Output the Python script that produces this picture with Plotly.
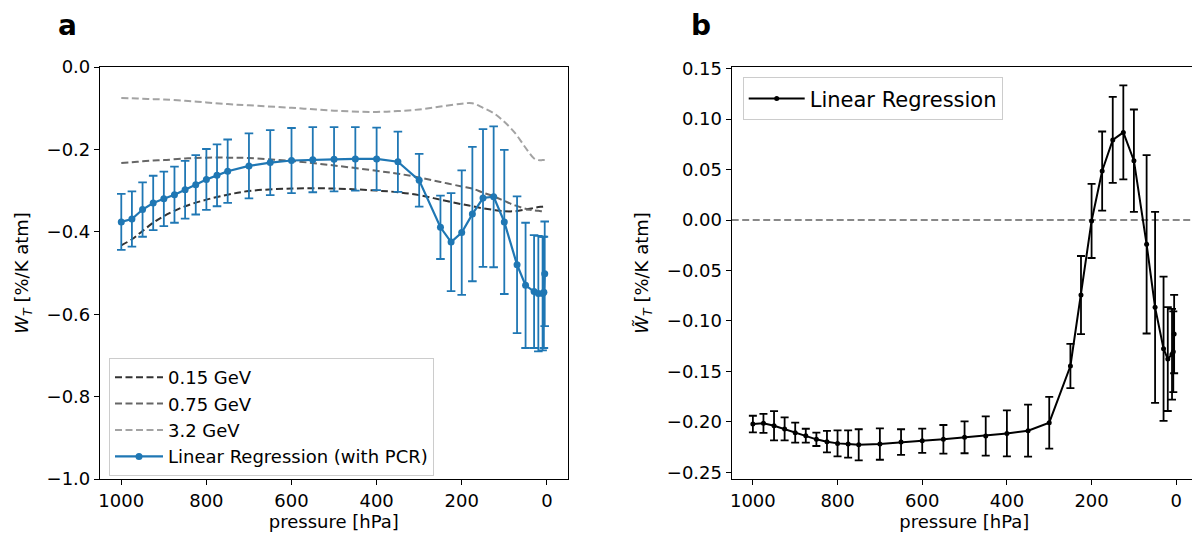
import plotly.graph_objects as go

# pressure levels [hPa]
pressure = [1000, 975, 950, 925, 900, 875, 850, 825, 800, 775, 750, 700, 650, 600,
            550, 500, 450, 400, 350, 300, 250, 225, 200, 175, 150, 125, 100, 70,
            50, 30, 20, 10, 7, 5]

# panel a: linear regression (with PCR)
wt_pcr = [-0.376, -0.369, -0.346, -0.330, -0.320, -0.310, -0.298, -0.286, -0.273,
          -0.263, -0.253, -0.240, -0.232, -0.227, -0.225, -0.224, -0.223, -0.223,
          -0.230, -0.275, -0.389, -0.425, -0.402, -0.357, -0.318, -0.315, -0.376,
          -0.480, -0.530, -0.545, -0.550, -0.550, -0.547, -0.502]
wt_pcr_err = [0.068, 0.067, 0.066, 0.066, 0.066, 0.068, 0.070, 0.072, 0.074, 0.075,
              0.077, 0.079, 0.079, 0.079, 0.079, 0.078, 0.077, 0.076, 0.073, 0.064,
              0.077, 0.119, 0.151, 0.163, 0.167, 0.171, 0.175, 0.166, 0.152, 0.137,
              0.140, 0.138, 0.135, 0.127]

# panel a: model curves
p_model = [1000, 975, 950, 925, 900, 850, 800, 750, 700, 600, 500, 400, 350, 300,
           250, 200, 175, 150, 125, 100, 75, 50, 30, 20, 10, 5]
wt_015 = [-0.433, -0.418, -0.398, -0.378, -0.362, -0.338, -0.322, -0.310, -0.301,
          -0.295, -0.295, -0.300, -0.304, -0.311, -0.322, -0.333, -0.338, -0.343,
          -0.347, -0.350, -0.350, -0.346, -0.342, -0.340, -0.339, -0.338]
wt_075 = [-0.233, -0.231, -0.229, -0.227, -0.226, -0.222, -0.220, -0.220, -0.221,
          -0.228, -0.239, -0.252, -0.259, -0.268, -0.279, -0.290, -0.295, -0.305,
          -0.314, -0.325, -0.336, -0.344, -0.348, -0.349, -0.350, -0.350]
wt_32 = [-0.075, -0.076, -0.077, -0.078, -0.079, -0.082, -0.086, -0.090, -0.093,
         -0.099, -0.106, -0.109, -0.107, -0.103, -0.096, -0.089, -0.088, -0.099,
         -0.112, -0.133, -0.160, -0.196, -0.222, -0.226, -0.226, -0.226]

# panel b: linear regression
wt_tilde = [-0.2021, -0.2014, -0.2038, -0.2070, -0.2107, -0.2137, -0.2173, -0.2196,
            -0.2213, -0.2220, -0.2227, -0.2220, -0.2200, -0.2187, -0.2173, -0.2153,
            -0.2140, -0.2114, -0.2087, -0.2008, -0.1446, -0.0743, -0.0009, 0.0486,
            0.0794, 0.0869, 0.0589, -0.0240, -0.0865, -0.1275, -0.1377, -0.1330,
            -0.1305, -0.1130]
wt_tilde_err = [0.0082, 0.0094, 0.0145, 0.0114, 0.0099, 0.0069, 0.0066, 0.0107,
                0.0129, 0.0135, 0.0154, 0.0155, 0.0127, 0.0120, 0.0142, 0.0158,
                0.0195, 0.0228, 0.0258, 0.0256, 0.0220, 0.0387, 0.0367, 0.0392,
                0.0426, 0.0466, 0.0507, 0.0884, 0.0946, 0.0714, 0.0515, 0.0450,
                0.0400, 0.0388]

FONT = "DejaVu Sans"
BLUE = "#1f77b4"

# page body has an 8px margin, so the figure is a bit smaller than the window
PAD = 8
W, H = 1200 - PAD, 543 - PAD


def fx(px):
    return (px - PAD) / W


def fy(py):
    return 1 - (py - PAD) / H


fig = go.Figure()

for name, vals, col in [("0.15 GeV", wt_015, "#333333"),
                        ("0.75 GeV", wt_075, "#666666"),
                        ("3.2 GeV", wt_32, "#a3a3a3")]:
    fig.add_trace(go.Scatter(
        x=p_model, y=vals, name=name, mode="lines",
        line=dict(color=col, width=2, dash="7px,3.5px", shape="spline"),
        xaxis="x", yaxis="y", legend="legend",
    ))

fig.add_trace(go.Scatter(
    x=pressure, y=wt_pcr, name="Linear Regression (with PCR)", mode="lines+markers",
    line=dict(color=BLUE, width=2.2), marker=dict(color=BLUE, size=7),
    error_y=dict(type="data", array=wt_pcr_err, color=BLUE, thickness=1.8, width=4.3),
    xaxis="x", yaxis="y", legend="legend",
))

fig.add_trace(go.Scatter(
    x=[1050, -50], y=[0, 0], mode="lines", showlegend=False, hoverinfo="skip",
    line=dict(color="#888888", width=2, dash="7px,3.5px"),
    xaxis="x2", yaxis="y2",
))

fig.add_trace(go.Scatter(
    x=pressure, y=wt_tilde, name="Linear Regression", mode="lines+markers",
    line=dict(color="black", width=2), marker=dict(color="black", size=5),
    error_y=dict(type="data", array=wt_tilde_err, color="black", thickness=1.8, width=4),
    xaxis="x2", yaxis="y2", legend="legend2",
))

ax = dict(showline=True, linecolor="black", linewidth=1.2, mirror=True,
          ticks="outside", ticklen=5, tickwidth=1.2, tickcolor="black",
          showgrid=False, zeroline=False, automargin=False,
          tickfont=dict(family=FONT, size=18, color="black"))

ydom = [fy(479), fy(67)]

fig.update_layout(
    width=W, height=H,
    margin=dict(l=0, r=0, t=0, b=0),
    paper_bgcolor="white", plot_bgcolor="white",
    font=dict(family=FONT, size=18, color="black"),
    xaxis=dict(ax, domain=[fx(100), fx(567.7)], range=[1050, -49],
               tickvals=[1000, 800, 600, 400, 200, 0],
               title=dict(text="pressure [hPa]", font=dict(size=18), standoff=4)),
    yaxis=dict(ax, domain=ydom, range=[-1, 0],
               tickvals=[0, -0.2, -0.4, -0.6, -0.8, -1.0], tickformat=".1f",
               title=dict(text="<i>W</i><sub><i>T</i></sub> [%/K atm]",
                          font=dict(size=18), standoff=13)),
    xaxis2=dict(ax, domain=[fx(731.7), fx(1197)], range=[1050, -49],
                anchor="y2", tickvals=[1000, 800, 600, 400, 200, 0],
                title=dict(text="pressure [hPa]", font=dict(size=18), standoff=4)),
    yaxis2=dict(ax, domain=ydom, range=[-0.2566, 0.1517],
                anchor="x2", tickvals=[0.15, 0.10, 0.05, 0.0, -0.05, -0.10, -0.15, -0.20, -0.25],
                tickformat=".2f",
                title=dict(text="<i>W\u0303</i><sub><i>T</i></sub> [%/K atm]",
                           font=dict(size=18), standoff=13)),
    legend=dict(x=fx(109), y=fy(358), xanchor="left", yanchor="top",
                bgcolor="white", bordercolor="#cccccc", borderwidth=1,
                itemwidth=48, font=dict(family=FONT, size=18)),
    legend2=dict(x=fx(742.7), y=fy(77.3), xanchor="left", yanchor="top",
                 bgcolor="white", bordercolor="#cccccc", borderwidth=1,
                 itemwidth=56, font=dict(family=FONT, size=21)),
    annotations=[
        dict(text="<b>a</b>", x=fx(68), y=1, xref="paper", yref="paper",
             xanchor="center", yanchor="top", borderpad=0, showarrow=False,
             font=dict(family=FONT, size=28, color="black")),
        dict(text="<b>b</b>", x=fx(701), y=1, xref="paper", yref="paper",
             xanchor="center", yanchor="top", borderpad=0, showarrow=False,
             font=dict(family=FONT, size=28, color="black")),
    ],
)

fig.write_html("out.html")
